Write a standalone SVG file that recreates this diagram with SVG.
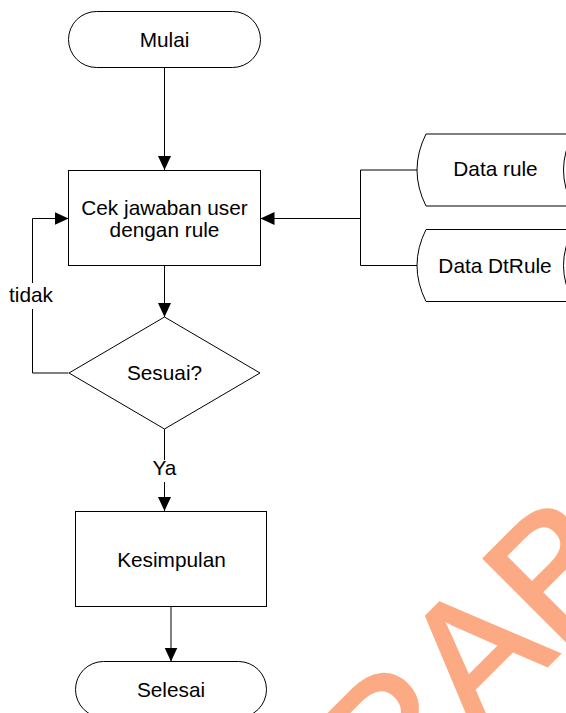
<svg xmlns="http://www.w3.org/2000/svg" width="566" height="713" viewBox="0 0 566 713">
  <style>
    .shape { fill: #ffffff; stroke: #000000; stroke-width: 1; }
    .conn { fill: none; stroke: #000000; stroke-width: 1; }
    .lbl { font-family: "Liberation Sans", Arial, sans-serif; font-size: 20.8px; fill: #000000; text-anchor: middle; }
    .wm { font-family: "Liberation Sans", Arial, sans-serif; font-size: 175px; fill: #FCAA83; stroke: #FCAA83; stroke-width: 3; }
  </style>
  <defs>
    <marker id="arrow" markerUnits="userSpaceOnUse" markerWidth="14" markerHeight="14" viewBox="0 0 14 14" refX="14" refY="7" orient="auto">
      <path d="M0,0.5 L14,7 L0,13.5 Z" fill="#000000"/>
    </marker>
  </defs>
  <rect width="566" height="713" fill="#ffffff"/>
  <text class="wm" x="0" y="0" transform="translate(215.5,997.5) rotate(-45)">SURABAYA</text>

  <g id="connectors">
    <path class="conn" d="M164.5,67.5 V170" marker-end="url(#arrow)"/>
    <path class="conn" d="M164.5,265.5 V317" marker-end="url(#arrow)"/>
    <path class="conn" d="M164.5,429 V460"/>
    <path class="conn" d="M164.5,482 V511" marker-end="url(#arrow)"/>
    <path class="conn" d="M171,607 V661.5" marker-end="url(#arrow)"/>
    <path class="conn" d="M68.5,373 H32.5 V309"/>
    <path class="conn" d="M32.5,283 V218.5 H68.5" marker-end="url(#arrow)"/>
    <path class="conn" d="M417,170 H360.5 V265.5 H417"/>
    <path class="conn" d="M360.5,218.5 H260.5" marker-end="url(#arrow)"/>
    <text class="lbl" x="31" y="302">tidak</text>
    <text class="lbl" x="164.5" y="475">Ya</text>
  </g>

  <g id="mulai">
    <rect class="shape" x="68.5" y="11.5" width="192" height="56" rx="28" ry="28"/>
    <text class="lbl" x="164.5" y="46.5">Mulai</text>
  </g>

  <g id="cek">
    <rect class="shape" x="68.5" y="170.5" width="192" height="95"/>
    <text class="lbl" x="164.5" y="215">Cek jawaban user</text>
    <text class="lbl" x="164.5" y="237">dengan rule</text>
  </g>

  <g id="sesuai">
    <path class="shape" d="M164.5,317 L260,373 L164.5,429 L69,373 Z"/>
    <text class="lbl" x="164.5" y="379.5">Sesuai?</text>
  </g>

  <g id="kesimpulan">
    <rect class="shape" x="75.5" y="511.5" width="191" height="95"/>
    <text class="lbl" x="171.5" y="566.5">Kesimpulan</text>
  </g>

  <g id="selesai">
    <rect class="shape" x="75.5" y="661.5" width="191" height="56" rx="28" ry="28"/>
    <text class="lbl" x="171" y="697">Selesai</text>
  </g>

  <g id="data-rule">
    <path class="shape" d="M426,134 L573,134 Q554,170 573,206 L426,206 Q408,170 426,134 Z"/>
    <text class="lbl" x="495.5" y="176">Data rule</text>
  </g>

  <g id="data-dtrule">
    <path class="shape" d="M426,229.5 L573,229.5 Q554,265.5 573,301.5 L426,301.5 Q408,265.5 426,229.5 Z"/>
    <text class="lbl" x="495" y="273">Data DtRule</text>
  </g>
</svg>
